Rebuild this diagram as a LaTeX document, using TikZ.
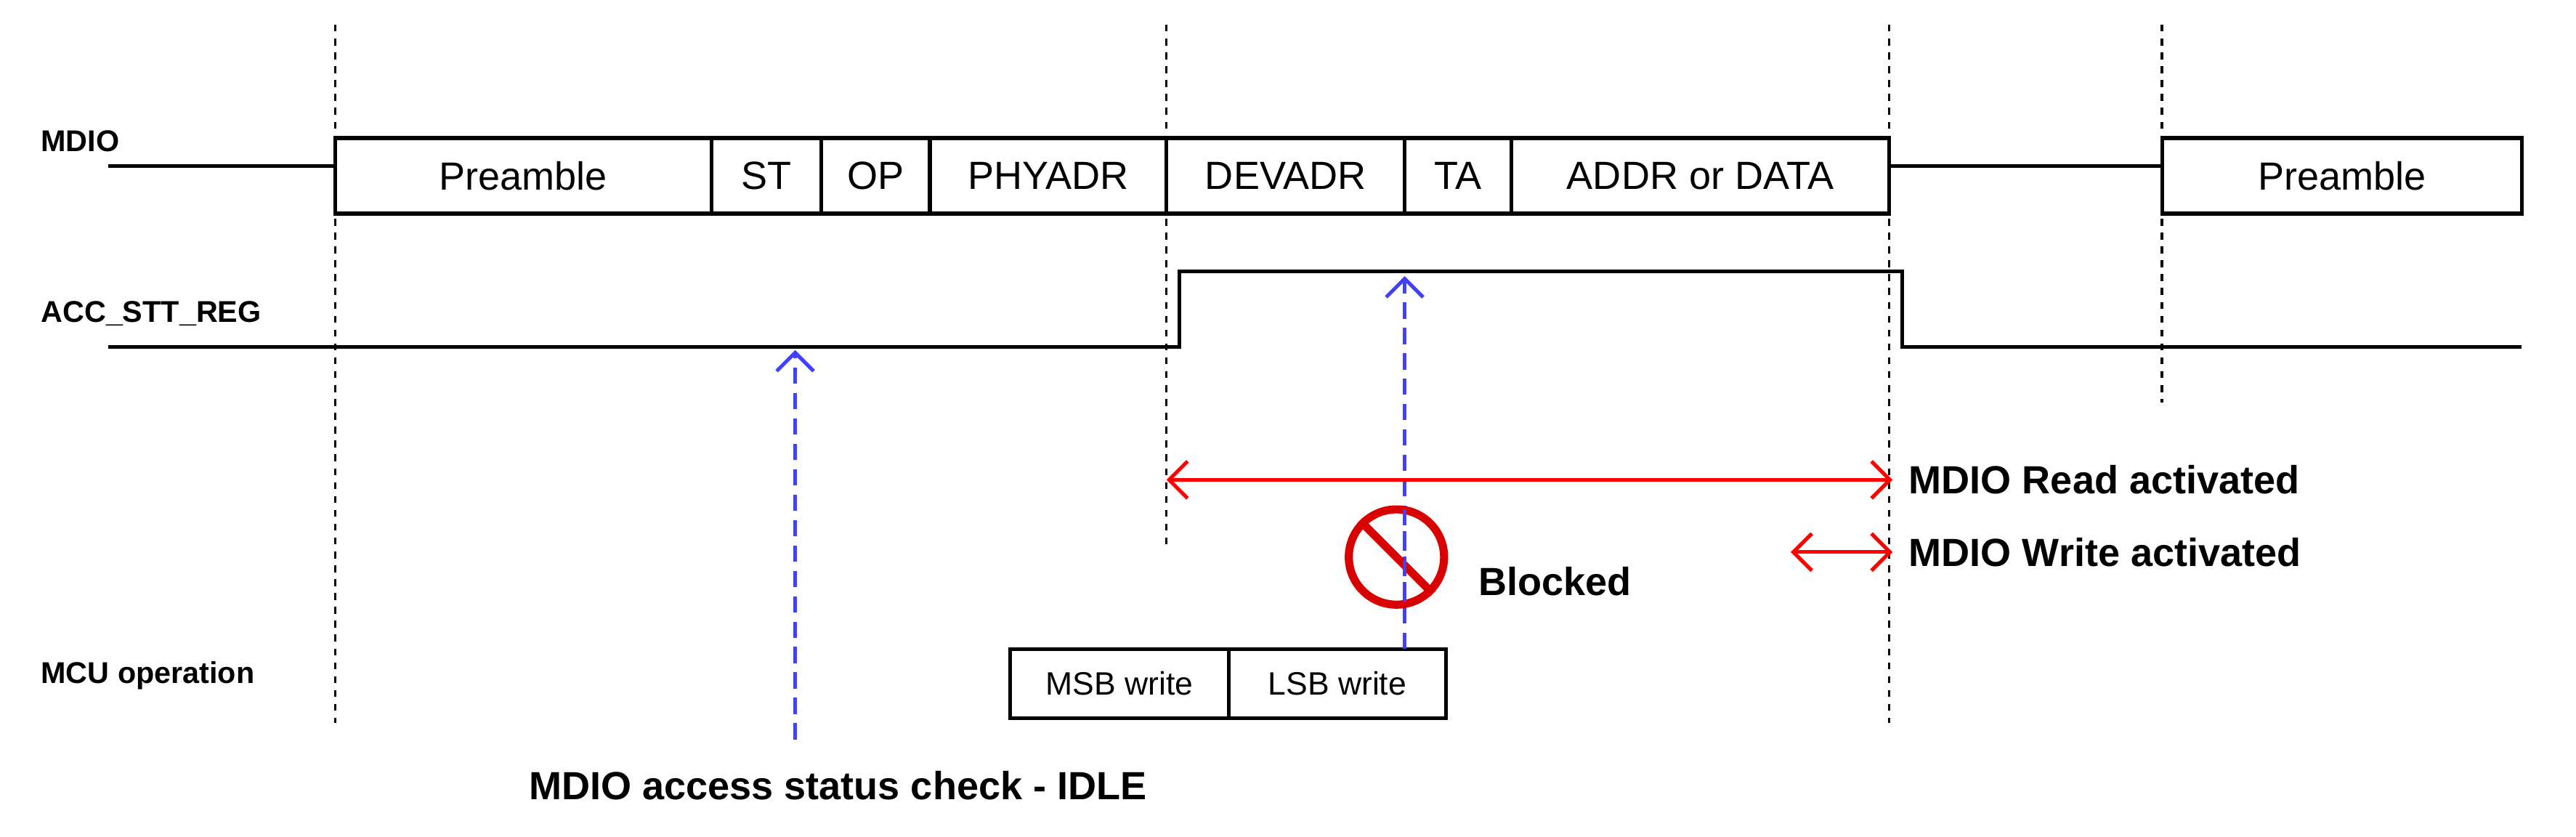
\documentclass[tikz,border=0pt]{standalone}
\usepackage{fontspec}
\setmainfont{Liberation Sans}
\usetikzlibrary{arrows.meta}
\begin{document}
\begin{tikzpicture}[x=0.025cm, y=-0.025cm,
    sig/.style={line width=1.6pt},
    field/.style={draw, line width=1.6pt, minimum height=46*0.025cm, inner sep=0pt, font=\fontsize{17}{20}\selectfont},
    mcu/.style={draw, line width=1.6pt, minimum height=42*0.025cm, inner sep=0pt, font=\fontsize{14}{17}\selectfont},
    guide/.style={dashed, line width=1.1pt},
    lbl/.style={font=\bfseries\fontsize{13}{16}\selectfont, anchor=west},
    note/.style={font=\bfseries\fontsize{17}{20}\selectfont, anchor=west},
    probe/.style={-{Straight Barb[length=8pt]}, blue!75, dash pattern=on 7pt off 4pt, line width=1.6pt},
    span/.style={{Straight Barb[length=8pt]}-{Straight Barb[length=8pt]}, red, line width=1.6pt}]
    \useasboundingbox (0,0) rectangle (1568,509);

    % Guides
    \draw[guide] (204,15) -- (204,440);
    \draw[guide] (710,15) -- (710,335);
    \draw[guide] (1150,15) -- (1150,440);
    \draw[guide] (1316,15) -- (1316,245);

    % Labels
    \node[lbl] (mdio) at (20,86) {MDIO};
    \node[lbl] (acc) at (20,191) {ACC\_STT\_REG};
    \node[lbl] (mcu) at (20,411) {MCU operation};

    % MDIO frame
    \node[field, minimum width=229*0.025cm] (pre) at (318.5,107) {Preamble};
    \node[field, minimum width=67*0.025cm] (st) at (466.5,107) {ST};
    \node[field, minimum width=66*0.025cm] (op) at (533,107) {OP};
    \node[field, minimum width=144*0.025cm] (phy) at (638,107) {PHYADR};
    \node[field, minimum width=145*0.025cm] (dev) at (782.5,107) {DEVADR};
    \node[field, minimum width=65*0.025cm] (ta) at (887.5,107) {TA};
    \node[field, minimum width=230*0.025cm] (data) at (1035,107) {ADDR or DATA};
    \node[field, minimum width=219*0.025cm] (pre2) at (1425.5,107) {Preamble};
    \draw[sig] (66,101) -- (pre.west |- 0,101);
    \draw[sig] (data.east |- 0,101) -- (pre2.west |- 0,101);

    % ACC_STT_REG
    \draw[sig] (66,211) -- (718,211) -- (718,165) -- (1158,165) -- (1158,211) -- (1535,211);

    % MCU operation
    \node[mcu, minimum width=133*0.025cm] (msb) at (681.5,416) {MSB write};
    \node[mcu, minimum width=132*0.025cm] (lsb) at (814,416) {LSB write};

    % Checks
    \node[note, anchor=center] (idle) at (510,478) {MDIO access status check - IDLE};
    \coordinate (idlebot) at (484,450);
    \coordinate (idletop) at (484,213);
    \draw[probe] (idlebot) -- (idletop);
    \coordinate (lsbtop) at (855,395);
    \coordinate (acctop) at (855,168);
    \draw[probe] (lsbtop) -- (acctop);

    % Blocked
    \node[circle, draw=red!85!black, line width=3.5pt, minimum size=58*0.025cm, inner sep=0pt] (stop) at (850,339) {};
    \draw[red!85!black, line width=3.5pt] (stop.north west) -- (stop.south east);
    \draw[blue!75, dash pattern=on 7pt off 4pt, line width=1.6pt] (855,310) -- (855,370);
    \node[note] (blk) at (895,354) {Blocked};

    % Activation windows
    \coordinate (rdA) at (710,292);
    \coordinate (rdB) at (1152,292);
    \draw[span] (rdA) -- (rdB);
    \node[note] (rd) at (1157,292) {MDIO Read activated};
    \coordinate (wrA) at (1090,336);
    \coordinate (wrB) at (1152,336);
    \draw[span] (wrA) -- (wrB);
    \node[note] (wr) at (1157,336) {MDIO Write activated};
\end{tikzpicture}
\end{document}
